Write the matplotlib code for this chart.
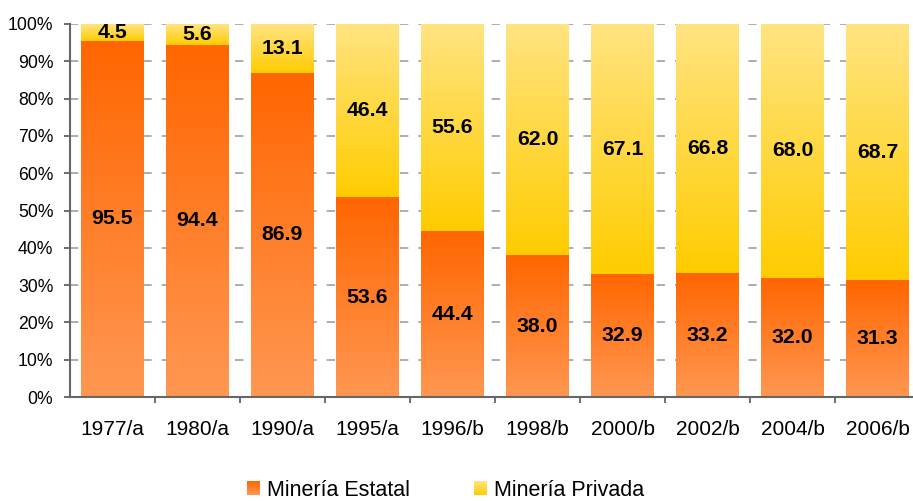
import numpy as np
import matplotlib
matplotlib.use("Agg")
import matplotlib.pyplot as plt
from matplotlib.colors import LinearSegmentedColormap
from matplotlib.patches import Rectangle
from matplotlib.legend_handler import HandlerBase

categories = ["1977/a", "1980/a", "1990/a", "1995/a", "1996/b",
              "1998/b", "2000/b", "2002/b", "2004/b", "2006/b"]
estatal = [95.5, 94.4, 86.9, 53.6, 44.4, 38.0, 32.9, 33.2, 32.0, 31.3]
privada = [4.5, 5.6, 13.1, 46.4, 55.6, 62.0, 67.1, 66.8, 68.0, 68.7]
series_names = ["Minería Estatal", "Minería Privada"]

plt.rcParams['font.family'] = ['Liberation Sans', 'DejaVu Sans']

orange_cmap = LinearSegmentedColormap.from_list("or", ["#FF9752", "#FF6600"])
yellow_cmap = LinearSegmentedColormap.from_list("ye", ["#FFCC00", "#FFE482"])

fig = plt.figure(figsize=(9.13, 5.01), dpi=100)
ax = fig.add_axes([70/913, 1-397/501, 850/913, 373/501])

x = np.arange(len(categories))
width = 0.73
grad = np.linspace(0, 1, 256).reshape(-1, 1)

def gradient_bars(bottoms, heights, cmap):
    bars = ax.bar(x, heights, width, bottom=bottoms, color="none", zorder=2)
    for b in bars:
        x0, y0 = b.get_x(), b.get_y()
        w, h = b.get_width(), b.get_height()
        ax.imshow(grad, cmap=cmap, origin="lower", aspect="auto",
                  extent=[x0, x0 + w, y0, y0 + h], interpolation="bilinear",
                  zorder=2)
    return bars

gradient_bars([0]*len(x), estatal, orange_cmap)
gradient_bars(estatal, privada, yellow_cmap)

for i in range(len(x)):
    ax.text(x[i], estatal[i]/2, f"{estatal[i]:.1f}", ha="center", va="center",
            fontsize=15.3, fontweight="bold", color="black", zorder=3)
    ax.text(x[i], estatal[i] + privada[i]/2, f"{privada[i]:.1f}", ha="center",
            va="center", fontsize=15.3, fontweight="bold", color="black", zorder=3)

ax.set_xlim(-0.5, len(x) - 0.5)
ax.set_ylim(0, 100)
ax.set_yticks(np.arange(0, 101, 10))
ax.set_yticklabels([f"{v}%" for v in range(0, 101, 10)], fontsize=12.7)
ax.set_xticks(x)
ax.set_xticklabels(categories, fontsize=15)
ax.set_xticks(np.arange(0.5, len(x) - 0.5, 1), minor=True)
ax.tick_params(axis="x", which="major", length=0, pad=16.5)
ax.tick_params(axis="x", which="minor", length=4.5, width=1.2, color="#555555", direction="out")
ax.tick_params(axis="y", length=4, width=1.2, color="#555555", pad=8)

ax.set_axisbelow(True)
ax.yaxis.grid(True, color="#A0A0A0", linestyle=(0, (5, 6)), linewidth=1.2, zorder=0)
for s in ["top", "right"]:
    ax.spines[s].set_visible(False)
for s in ["left", "bottom"]:
    ax.spines[s].set_color("#666666")
    ax.spines[s].set_linewidth(1.5)
    ax.spines[s].set_zorder(4)


class GradHandler(HandlerBase):
    def __init__(self, cmap):
        super().__init__()
        self.cmap = cmap

    def create_artists(self, legend, orig_handle, xdescent, ydescent,
                       width, height, fontsize, trans):
        n = 20
        arts = []
        for k in range(n):
            r = Rectangle((-xdescent, -ydescent + height * k / n), width,
                          height / n + 0.05, facecolor=self.cmap((k + 0.5) / n),
                          edgecolor="none", transform=trans)
            arts.append(r)
        return arts


h1 = Rectangle((0, 0), 1, 1)
h2 = Rectangle((0, 0), 1, 1)
fig.legend([h1, h2], series_names, loc="center",
           bbox_to_anchor=(445.5/913, 1 - 490/501), ncol=2, frameon=False,
           fontsize=15.5, handlelength=0.6, handleheight=0.6,
           handletextpad=0.3, columnspacing=3.0, borderpad=0,
           handler_map={h1: GradHandler(orange_cmap), h2: GradHandler(yellow_cmap)})

fig.savefig("out.png", dpi=100)
